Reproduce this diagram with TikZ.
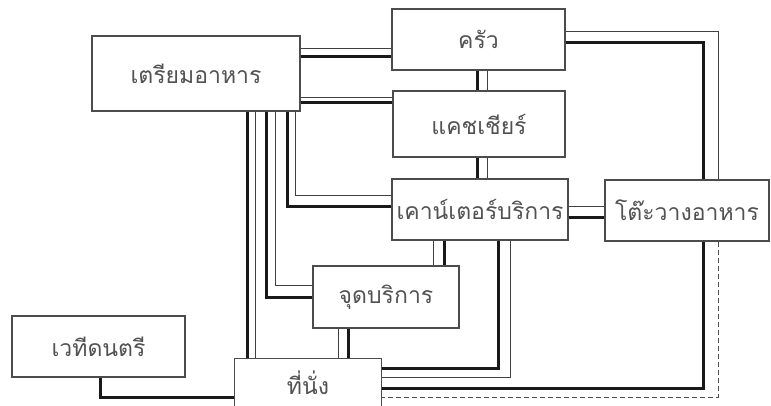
\documentclass[tikz,border=0pt]{standalone}
\usepackage{fontspec}
\newfontfamily\thaifont[Script=Thai]{Loma}
\begin{document}
\begin{tikzpicture}[x=1pt,y=-1pt,
  boxline/.style={draw=black!70,line width=1.1pt},
  box/.style={boxline,fill=white,rectangle,inner sep=0pt,
    font=\thaifont\fontsize{23}{26}\selectfont,text=black!68},
  openbox/.style={box,draw=none},
  thk/.style={draw=black!90,line width=3pt},
  thn/.style={draw=black!75,line width=0.8pt},
  dsh/.style={draw=black!70,line width=0.8pt,dash pattern=on 5pt off 3pt}]
\useasboundingbox (0,0) rectangle (771,406);
\fill[white] (0,0) rectangle (771,406);
% nodes
\node[box,minimum width=208pt,minimum height=75pt] (prep) at (196,73.5) {เตรียมอาหาร};
\node[box,minimum width=173pt,minimum height=61pt] (kitchen) at (478.5,39.5) {ครัว};
\node[box,minimum width=172pt,minimum height=66pt] (cashier) at (479,124) {แคชเชียร์};
\node[box,minimum width=176pt,minimum height=61pt] (counter) at (480,209.5) {เคาน์เตอร์บริการ};
\node[box,minimum width=164pt,minimum height=61pt] (buffet) at (687,210.5) {โต๊ะวางอาหาร};
\node[box,minimum width=146pt,minimum height=62pt] (spot) at (386,297) {จุดบริการ};
\node[box,minimum width=173pt,minimum height=61pt] (stage) at (98.5,346.5) {เวทีดนตรี};
\node[openbox,minimum width=146pt,minimum height=47pt] (seat) at (308,382.5) {\raisebox{-2pt}{ที่นั่ง}};
\draw[boxline] (seat.south west) |- (seat.north east) -- (seat.south east);
% prep -> kitchen
\draw[thn] (prep.east |- 0,48) -- (kitchen.west |- 0,48);
\draw[thk] (prep.east |- 0,57) -- (kitchen.west |- 0,57);
% prep -> cashier
\draw[thn] (prep.east |- 0,97) -- (cashier.west |- 0,97);
\draw[thk] (prep.east |- 0,103) -- (cashier.west |- 0,103);
% kitchen -> cashier
\draw[thk] (477,0 |- kitchen.south) -- (477,0 |- cashier.north);
\draw[thn] (487,0 |- kitchen.south) -- (487,0 |- cashier.north);
% cashier -> counter
\draw[thk] (477,0 |- cashier.south) -- (477,0 |- counter.north);
\draw[thn] (487,0 |- cashier.south) -- (487,0 |- counter.north);
% kitchen -> buffet
\draw[thn] (kitchen.east |- 0,31) -| (718,0 |- buffet.north);
\draw[thk] (kitchen.east |- 0,43) -| (703,0 |- buffet.north);
% counter -> buffet
\draw[thn] (counter.east |- 0,206) -- (buffet.west |- 0,206);
\draw[thk] (counter.east |- 0,218) -- (buffet.west |- 0,218);
% buffet -> seat
\draw[thk] (703,0 |- buffet.south) |- (seat.east |- 0,388);
\draw[dsh] (718,0 |- buffet.south) |- (seat.east |- 0,397);
% counter -> seat
\draw[thk] (498,0 |- counter.south) |- (seat.east |- 0,368);
\draw[thn] (510,0 |- counter.south) |- (seat.east |- 0,377);
% counter -> spot
\draw[thn] (433,0 |- counter.south) -- (433,0 |- spot.north);
\draw[thk] (444,0 |- counter.south) -- (444,0 |- spot.north);
% spot -> seat
\draw[thn] (338,0 |- spot.south) -- (338,0 |- seat.north);
\draw[thk] (348,0 |- spot.south) -- (348,0 |- seat.north);
% stage -> seat
\draw[thk] (100,0 |- stage.south) |- (seat.west |- 0,397);
% prep -> counter
\draw[thn] (295,0 |- prep.south) |- (counter.west |- 0,195);
\draw[thk] (287,0 |- prep.south) |- (counter.west |- 0,207);
% prep -> spot
\draw[thn] (275,0 |- prep.south) |- (spot.west |- 0,285);
\draw[thk] (266,0 |- prep.south) |- (spot.west |- 0,297);
% prep -> seat
\draw[thk] (247,0 |- prep.south) -- (247,0 |- seat.north);
\draw[thn] (255,0 |- prep.south) -- (255,0 |- seat.north);
\end{tikzpicture}
\end{document}
